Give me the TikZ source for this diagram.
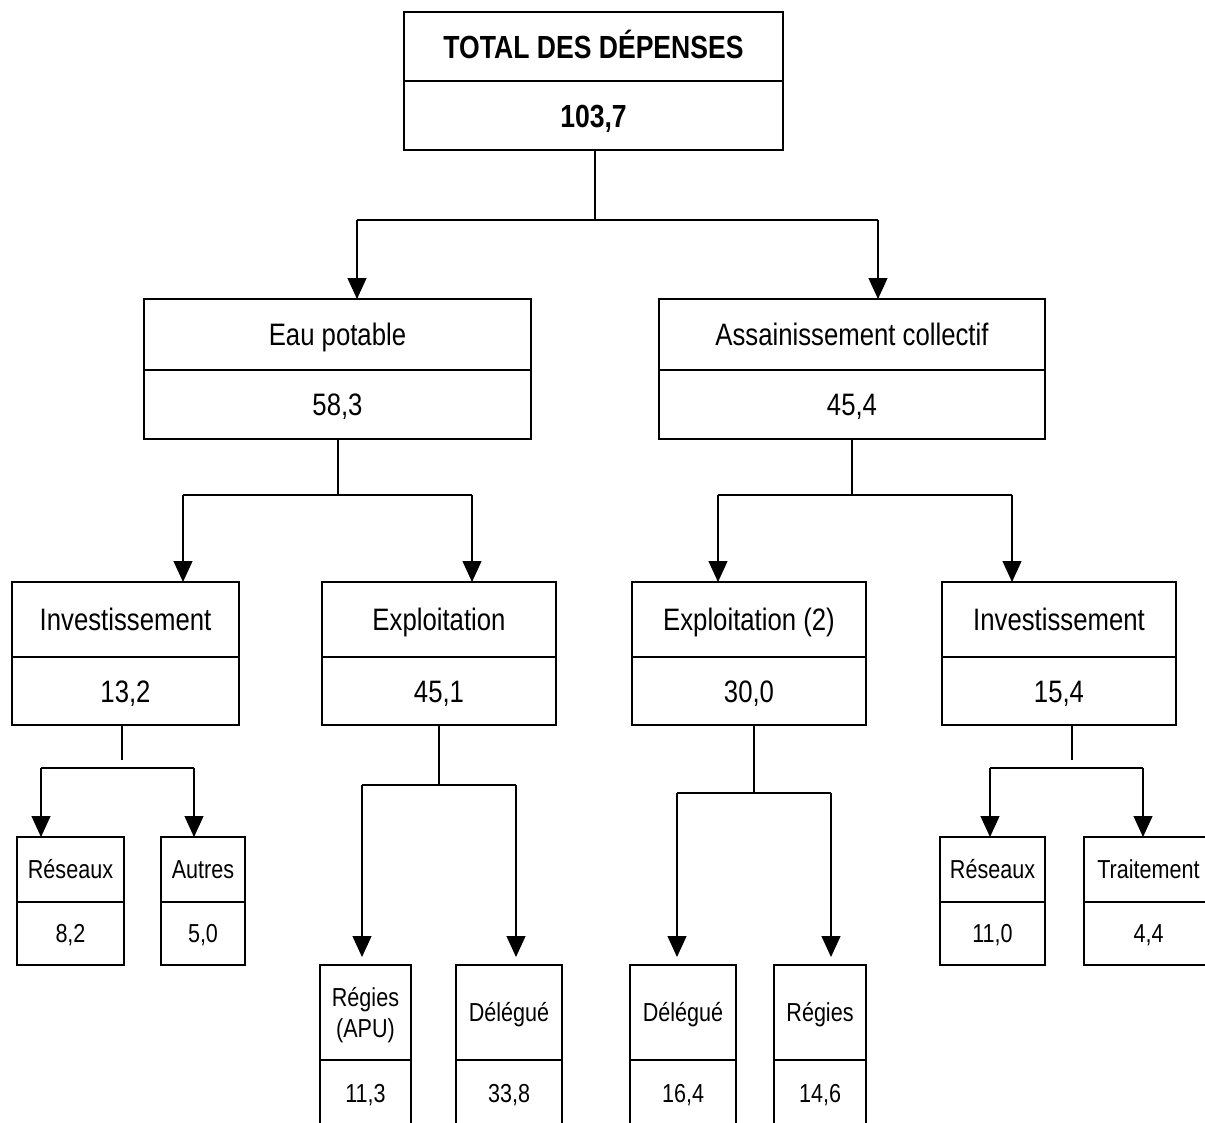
\documentclass[tikz,border=0pt]{standalone}
\usepackage{fontspec}
\setmainfont{Liberation Sans}[FakeStretch=0.83]
\usetikzlibrary{arrows.meta}

% one labelled box = a heading cell stacked on a value cell
\newcommand{\twobox}[9]{% name, x-left, x-right, y-top, y-divider, y-bottom, heading, value, text style
  \node[cell, #9, minimum width={#3-#2}, minimum height={#5-#4}] (#1h) at (#2,#4) {#7};
  \node[cell, #9, minimum width={#3-#2}, minimum height={#6-#5}] (#1v) at (#2,#5) {#8};
}

\begin{document}
\begin{tikzpicture}[x=1pt, y=-1pt,
  cell/.style={draw, rectangle, line width=1.8pt, inner sep=0pt, outer sep=0pt,
               anchor=north west, align=center, text depth=0pt},
  title/.style={font=\fontsize{32}{36}\selectfont\bfseries, text height=23pt},
  main/.style={font=\fontsize{31}{35}\selectfont, text height=22.2pt},
  small/.style={font=\fontsize{26}{27}\selectfont, text height=18.6pt},
  small2/.style={font=\fontsize{26}{31}\selectfont, text height=49.6pt},
  link/.style={line width=1.2pt},
  arr/.style={line width=1.2pt, -{Triangle[width=19pt,length=21pt]}},
]
\useasboundingbox (0,0) rectangle (1205,1122);
\clip (0,0) rectangle (1205,1122);

% level 1
\twobox{t}{404}{783}{12}{81}{150}{TOTAL DES DÉPENSES}{103,7}{title}

% level 2
\twobox{e}{144}{531}{299}{370}{439}{Eau potable}{58,3}{main}
\twobox{a}{659}{1045}{299}{370}{439}{Assainissement collectif}{45,4}{main}

% level 3
\twobox{ei}{12}{239}{582}{657}{725}{Investissement}{13,2}{main}
\twobox{ex}{322}{556}{582}{657}{725}{Exploitation}{45,1}{main}
\twobox{ax}{632}{866}{582}{657}{725}{Exploitation (2)}{30,0}{main}
\twobox{ai}{942}{1176}{582}{657}{725}{Investissement}{15,4}{main}

% level 4
\twobox{eir}{17}{124}{837}{902}{965}{Réseaux}{8,2}{small}
\twobox{eia}{161}{245}{837}{902}{965}{Autres}{5,0}{small}
\twobox{air}{940}{1045}{837}{902}{965}{Réseaux}{11,0}{small}
\twobox{ait}{1084}{1213}{837}{902}{965}{Traitement}{4,4}{small}

% bottom row (two-line heading in the first box)
\node[cell, small2, minimum width=91, minimum height=95] (exrh) at (320,965) {Régies\\(APU)};
\node[cell, small, minimum width=91, minimum height=66] (exrv) at (320,1060) {11,3};
\twobox{exd}{456}{562}{965}{1060}{1126}{Délégué}{33,8}{small}
\twobox{axd}{630}{736}{965}{1060}{1126}{Délégué}{16,4}{small}
\twobox{axr}{774}{866}{965}{1060}{1126}{Régies}{14,6}{small}

% junction points of the connectors
\coordinate (b1) at (595,220);  \coordinate (b1l) at (357,220);  \coordinate (b1r) at (878,220);
\coordinate (b2) at (338,495);  \coordinate (b2l) at (183,495);  \coordinate (b2r) at (472,495);
\coordinate (b3) at (852,495);  \coordinate (b3l) at (718,495);  \coordinate (b3r) at (1012,495);
\coordinate (b4) at (122,768);  \coordinate (b4l) at (41,768);   \coordinate (b4r) at (194,768);
\coordinate (b5) at (439,785);  \coordinate (b5l) at (362,785);  \coordinate (b5r) at (516,785);
\coordinate (b6) at (754,793);  \coordinate (b6l) at (677,793);  \coordinate (b6r) at (831,793);
\coordinate (b7) at (1072,768); \coordinate (b7l) at (990,768);  \coordinate (b7r) at (1143,768);

% total -> two sectors
\draw[link] (tv.south -| b1) -- (b1);
\draw[link] (b1l) -- (b1r);
\draw[arr] (b1l) -- (b1l |- eh.north);
\draw[arr] (b1r) -- (b1r |- ah.north);

% drinking water
\draw[link] (ev.south -| b2) -- (b2);
\draw[link] (b2l) -- (b2r);
\draw[arr] (b2l) -- (b2l |- eih.north);
\draw[arr] (b2r) -- (b2r |- exh.north);

% sanitation
\draw[link] (av.south -| b3) -- (b3);
\draw[link] (b3l) -- (b3r);
\draw[arr] (b3l) -- (b3l |- axh.north);
\draw[arr] (b3r) -- (b3r |- aih.north);

% investment (water)
\draw[link] (eiv.south -| b4) -- ++(0,35);
\draw[link] (b4l) -- (b4r);
\draw[arr] (b4l) -- (b4l |- eirh.north);
\draw[arr] (b4r) -- (b4r |- eiah.north);

% operation (water)
\draw[link] (exv.south -| b5) -- (b5);
\draw[link] (b5l) -- (b5r);
\draw[arr] (b5l) -- ([yshift=8pt]b5l |- exrh.north);
\draw[arr] (b5r) -- ([yshift=8pt]b5r |- exdh.north);

% operation (sanitation)
\draw[link] (axv.south -| b6) -- (b6);
\draw[link] (b6l) -- (b6r);
\draw[arr] (b6l) -- ([yshift=8pt]b6l |- axdh.north);
\draw[arr] (b6r) -- ([yshift=8pt]b6r |- axrh.north);

% investment (sanitation)
\draw[link] (aiv.south -| b7) -- ++(0,35);
\draw[link] (b7l) -- (b7r);
\draw[arr] (b7l) -- (b7l |- airh.north);
\draw[arr] (b7r) -- (b7r |- aith.north);
\end{tikzpicture}
\end{document}
